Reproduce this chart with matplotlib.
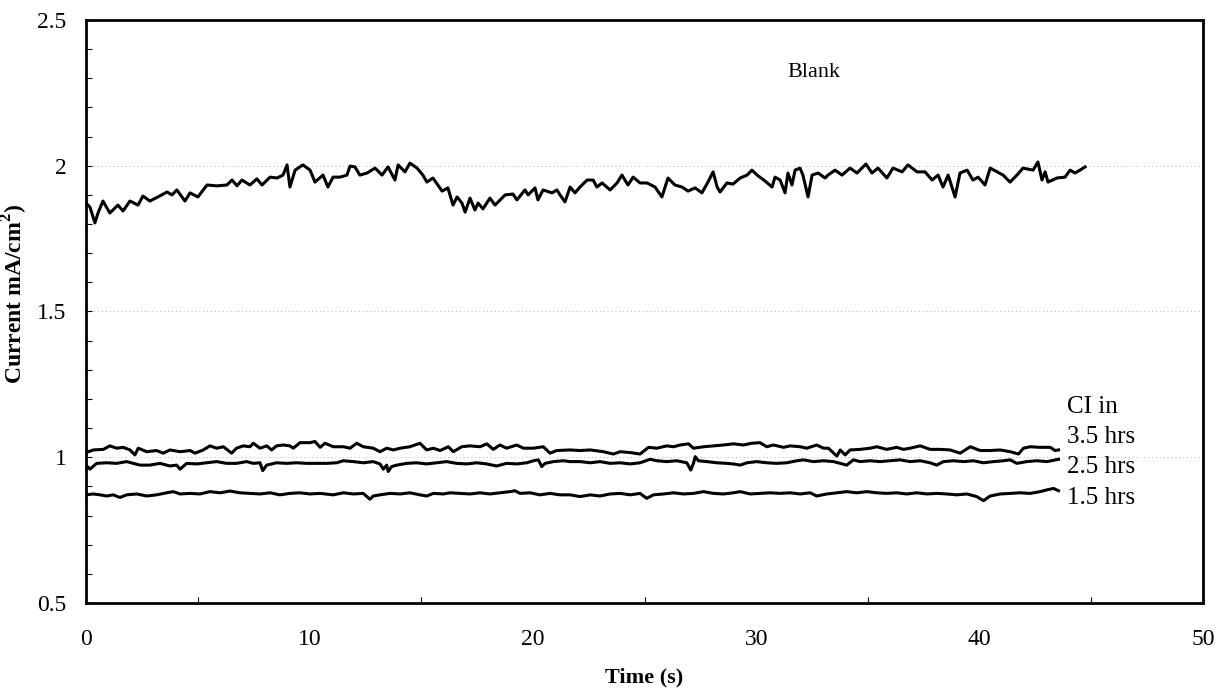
import matplotlib
matplotlib.use("Agg")
import matplotlib.pyplot as plt
from matplotlib.ticker import MultipleLocator

plt.rcParams['font.family'] = ['Liberation Serif', 'DejaVu Serif']
plt.rcParams['mathtext.fontset'] = 'custom'
plt.rcParams['mathtext.rm'] = 'Liberation Serif'
plt.rcParams['mathtext.bf'] = 'Liberation Serif:bold'

# Blank run
blank_t = [0.00, 0.18, 0.40, 0.54, 0.76, 1.07, 1.43, 1.66, 1.97, 2.33, 2.55, 2.86, 3.22, 3.63, 3.85,
           4.07, 4.43, 4.66, 5.01, 5.42, 5.86, 6.31, 6.54, 6.76, 6.98, 7.34, 7.65, 7.88, 8.24, 8.55,
           8.82, 9.00, 9.13, 9.36, 9.71, 10.03, 10.25, 10.61, 10.83, 11.06, 11.37, 11.68, 11.82, 12.04,
           12.26, 12.58, 12.94, 13.25, 13.52, 13.83, 13.97, 14.28, 14.50,
           14.82, 15.08, 15.26, 15.53, 15.94, 16.20, 16.43, 16.61, 16.83, 16.97, 17.19, 17.41, 17.55,
           17.77, 18.08, 18.31, 18.76, 19.11, 19.29, 19.65, 19.79, 20.10, 20.23, 20.46, 20.86, 21.08,
           21.22, 21.44, 21.67, 21.89, 22.11, 22.43, 22.70, 22.87, 23.10, 23.46, 23.77, 23.99, 24.26,
           24.49, 24.80, 25.11, 25.47, 25.78, 26.05, 26.36, 26.68, 26.95, 27.26, 27.57, 27.84, 28.07,
           28.25, 28.38, 28.69, 28.96, 29.28, 29.59,
           29.81, 30.04, 30.39, 30.71, 30.84, 31.07, 31.29, 31.42, 31.60, 31.74, 31.96, 32.09, 32.32,
           32.50, 32.77, 33.08, 33.21, 33.53, 33.84, 34.20, 34.51, 34.91, 35.18, 35.45, 35.85, 36.12,
           36.53, 36.79, 37.20, 37.56, 37.87, 38.14, 38.36, 38.59, 38.90, 39.12, 39.44, 39.70, 39.93,
           40.24, 40.47, 40.78, 41.05, 41.36, 41.67, 41.94, 42.39, 42.61, 42.79, 42.93, 43.06, 43.46,
           43.82, 44.05, 44.27, 44.49, 44.72]
blank_v = [1.872, 1.858, 1.804, 1.838, 1.879, 1.838, 1.865, 1.845, 1.879, 1.865, 1.896, 1.879, 1.893, 1.910, 1.900,
           1.917, 1.879, 1.907, 1.893, 1.934, 1.931, 1.934, 1.951, 1.931, 1.951, 1.934, 1.955, 1.934, 1.961, 1.958,
           1.968, 2.003, 1.927, 1.985, 2.003, 1.985, 1.944, 1.968, 1.927, 1.961, 1.961, 1.968, 1.999, 1.996,
           1.968, 1.975, 1.992, 1.968, 1.996, 1.951, 2.003, 1.979, 2.009,
           1.992, 1.968, 1.944, 1.958, 1.913, 1.924, 1.865, 1.893, 1.872, 1.841, 1.889, 1.848, 1.872,
           1.852, 1.889, 1.865, 1.900, 1.903, 1.883, 1.917, 1.900, 1.924, 1.883, 1.917, 1.907, 1.917,
           1.900, 1.876, 1.927, 1.907, 1.927, 1.951, 1.951, 1.927, 1.941, 1.917, 1.941, 1.968, 1.934,
           1.961, 1.941, 1.941, 1.927, 1.893, 1.958, 1.934, 1.927, 1.913, 1.924, 1.907, 1.944, 1.979,
           1.927, 1.910, 1.941, 1.937, 1.958, 1.968,
           1.985, 1.968, 1.948, 1.927, 1.961, 1.951, 1.907, 1.975, 1.934, 1.985, 1.992, 1.968, 1.893,
           1.968, 1.975, 1.958, 1.968, 1.985, 1.968, 1.992, 1.975, 2.006, 1.975, 1.992, 1.958, 1.992,
           1.979, 2.003, 1.979, 1.979, 1.951, 1.968, 1.927, 1.968, 1.893, 1.975, 1.985, 1.951, 1.961,
           1.934, 1.992, 1.979, 1.968, 1.944, 1.968, 1.992, 1.985, 2.013, 1.951, 1.979, 1.944, 1.958,
           1.961, 1.985, 1.975, 1.985, 1.996]

# CI in 3.5 hrs
ci35_t = [0.0, 0.33, 0.78, 1.07, 1.37, 1.67, 1.97, 2.19, 2.34, 2.72, 3.16, 3.46, 3.76, 4.21, 4.66, 4.88,
          5.25, 5.55, 5.85, 6.15, 6.52, 6.74, 7.04, 7.34, 7.49, 7.79, 8.09, 8.31, 8.53, 8.83, 9.13, 9.28,
          9.58, 10.03, 10.25, 10.48, 10.70, 11.07, 11.52, 11.82, 12.12, 12.41, 12.86, 13.16, 13.46, 13.76,
          14.06, 14.50, 14.95, 15.25, 15.55, 15.85, 16.22, 16.44, 16.82, 17.19, 17.64, 17.94, 18.23, 18.53,
          18.83, 19.28, 19.58, 20.03, 20.47, 20.77, 21.07,
          21.67, 22.12, 22.57, 23.16, 23.61, 23.91, 24.36, 24.80, 25.18, 25.55, 26.00, 26.30, 26.59, 26.97,
          27.19, 27.64, 28.09, 28.53, 28.98, 29.43, 29.80, 30.17, 30.47, 30.77, 31.22, 31.52, 31.97, 32.26,
          32.71, 33.01, 33.23, 33.61, 33.76, 33.98, 34.20, 34.65, 35.10, 35.40, 35.84, 36.29, 36.59, 36.89,
          37.34, 37.78, 38.23, 38.68, 39.13, 39.58, 40.02, 40.47, 40.92, 41.37, 41.74, 41.96, 42.26, 42.71,
          43.16, 43.38, 43.53]
ci35_v = [1.016, 1.025, 1.027, 1.039, 1.031, 1.034, 1.025, 1.008, 1.031, 1.019, 1.023, 1.014, 1.025, 1.019, 1.023, 1.014,
          1.025, 1.039, 1.031, 1.036, 1.014, 1.031, 1.039, 1.036, 1.048, 1.031, 1.039, 1.025, 1.039, 1.042, 1.039, 1.031,
          1.050, 1.050, 1.054, 1.034, 1.048, 1.036, 1.036, 1.031, 1.048, 1.036, 1.031, 1.019, 1.031, 1.025,
          1.031, 1.036, 1.048, 1.025, 1.031, 1.023, 1.036, 1.019, 1.036, 1.039, 1.036, 1.046, 1.027, 1.042,
          1.031, 1.042, 1.031, 1.031, 1.036, 1.014, 1.023,
          1.025, 1.023, 1.025, 1.019, 1.011, 1.019, 1.016, 1.011, 1.034, 1.031, 1.039, 1.036, 1.042, 1.046,
          1.031, 1.036, 1.039, 1.042, 1.046, 1.042, 1.048, 1.050, 1.036, 1.042, 1.034, 1.039, 1.036, 1.031,
          1.042, 1.031, 1.031, 1.004, 1.025, 1.008, 1.025, 1.027, 1.031, 1.036, 1.027, 1.034, 1.027, 1.031,
          1.039, 1.027, 1.027, 1.025, 1.014, 1.036, 1.023, 1.023, 1.025, 1.019, 1.011, 1.031, 1.036, 1.034,
          1.034, 1.023, 1.025]

# CI in 2.5 hrs
ci25_t = [0.0, 0.18, 0.48, 0.93, 1.37, 1.82, 2.12, 2.42, 2.86, 3.31, 3.76, 4.06, 4.21, 4.51, 4.95, 5.40,
          5.85, 6.30, 6.74, 7.19, 7.49, 7.79, 7.91, 8.09, 8.53, 8.98, 9.43, 9.88, 10.33, 10.77, 11.22, 11.52,
          11.97, 12.41, 12.86, 13.16, 13.31, 13.46, 13.53, 13.68, 13.91, 14.35, 14.80, 15.25, 15.70, 16.14,
          16.59, 17.04, 17.49, 17.94, 18.38, 18.83, 19.28, 19.73, 20.03, 20.25, 20.40, 20.55, 20.92, 21.37,
          21.67, 22.12, 22.57, 23.01, 23.46, 23.91, 24.36, 24.80, 25.25, 25.55, 26.00, 26.44, 26.89, 27.07,
          27.19, 27.27, 27.41, 27.79, 28.24, 28.68, 28.98, 29.28, 29.58, 30.03, 30.47, 30.92, 31.37, 31.82,
          32.11, 32.56, 33.01, 33.46, 33.76, 34.05, 34.35, 34.65, 35.10, 35.55, 35.99, 36.44, 36.89, 37.34,
          37.78, 38.08, 38.38, 38.83, 39.28, 39.72, 40.17, 40.62, 41.07, 41.37, 41.66, 42.11, 42.56, 43.01,
          43.53]
ci25_v = [0.973, 0.959, 0.979, 0.981, 0.979, 0.985, 0.979, 0.973, 0.973, 0.979, 0.970, 0.973, 0.959, 0.979, 0.977, 0.981,
          0.985, 0.979, 0.979, 0.985, 0.979, 0.981, 0.954, 0.973, 0.981, 0.979, 0.981, 0.979, 0.979, 0.979, 0.981, 0.988,
          0.985, 0.981, 0.985, 0.977, 0.959, 0.973, 0.951, 0.968, 0.973, 0.979, 0.981, 0.977, 0.981, 0.985,
          0.979, 0.977, 0.981, 0.977, 0.970, 0.979, 0.977, 0.981, 0.988, 0.991, 0.968, 0.979, 0.985, 0.988,
          0.985, 0.985, 0.981, 0.985, 0.979, 0.981, 0.977, 0.981, 0.993, 0.988, 0.985, 0.988, 0.981, 0.956,
          0.979, 1.002, 0.988, 0.985, 0.981, 0.979, 0.977, 0.973, 0.981, 0.985, 0.981, 0.979, 0.981, 0.988,
          0.991, 0.985, 0.988, 0.985, 0.979, 0.973, 0.991, 0.985, 0.988, 0.985, 0.988, 0.991, 0.985, 0.988,
          0.981, 0.973, 0.985, 0.988, 0.985, 0.988, 0.981, 0.985, 0.988, 0.991, 0.979, 0.985, 0.988, 0.985,
          0.993]

# CI in 1.5 hrs
ci15_t = [0.0, 0.33, 0.63, 0.93, 1.22, 1.52, 1.82, 2.27, 2.72, 3.16, 3.61, 3.91, 4.21, 4.66, 5.10, 5.55,
          6.00, 6.45, 6.89, 7.34, 7.79, 8.24, 8.68, 9.13, 9.58, 10.03, 10.48, 11.07, 11.52, 11.97, 12.41,
          12.71, 12.86, 13.16, 13.61, 14.06, 14.50, 14.95, 15.25, 15.55, 16.00, 16.29, 16.74, 17.19, 17.64,
          18.08, 18.53, 18.98, 19.20, 19.43, 19.88, 20.32, 20.77, 21.22,
          21.67, 22.12, 22.57, 23.01, 23.46, 23.91, 24.36, 24.80, 25.10, 25.40, 25.85, 26.30, 26.74, 27.19,
          27.64, 28.09, 28.53, 28.98, 29.28, 29.73, 30.17, 30.62, 31.07, 31.52, 31.97, 32.41, 32.71, 33.16,
          33.61, 34.05, 34.50, 34.95, 35.40, 35.84, 36.29, 36.74, 37.19, 37.64, 38.08, 38.53, 38.98, 39.43,
          39.87, 40.17, 40.47, 40.92, 41.37, 41.81, 42.26, 42.71, 43.01, 43.31, 43.53]
ci15_v = [0.871, 0.874, 0.871, 0.867, 0.871, 0.862, 0.871, 0.874, 0.867, 0.871, 0.878, 0.882, 0.874, 0.876, 0.874, 0.882,
          0.878, 0.884, 0.878, 0.876, 0.874, 0.878, 0.871, 0.876, 0.878, 0.874, 0.876, 0.871, 0.878, 0.874, 0.876,
          0.856, 0.867, 0.871, 0.876, 0.874, 0.878, 0.871, 0.867, 0.876, 0.874, 0.878, 0.876, 0.874, 0.878,
          0.874, 0.878, 0.882, 0.885, 0.876, 0.878, 0.871, 0.876, 0.871,
          0.871, 0.865, 0.871, 0.867, 0.874, 0.876, 0.871, 0.876, 0.859, 0.871, 0.874, 0.878, 0.874, 0.876,
          0.882, 0.876, 0.874, 0.878, 0.882, 0.874, 0.876, 0.878, 0.876, 0.878, 0.874, 0.878, 0.867, 0.874,
          0.878, 0.882, 0.878, 0.882, 0.878, 0.876, 0.878, 0.874, 0.878, 0.874, 0.876, 0.874, 0.871, 0.874,
          0.865, 0.851, 0.867, 0.874, 0.876, 0.878, 0.876, 0.882, 0.888, 0.893, 0.885]

ci_labels = ["CI in", "3.5 hrs", "2.5 hrs", "1.5 hrs"]

fig = plt.figure(figsize=(12.28, 6.95), dpi=100)
ax = fig.add_axes([0.070, 0.1324, 0.9097, 0.8388])

# faint dotted gridlines
for g in [1.0, 1.5, 2.0, 2.5]:
    ax.axhline(g, color='#b0b0b0', lw=0.7, ls=(0, (1, 3)), zorder=0)

for t, v in [(blank_t, blank_v), (ci35_t, ci35_v), (ci25_t, ci25_v), (ci15_t, ci15_v)]:
    ax.plot(t, v, color='black', lw=2.2, solid_joinstyle='round')

ax.set_xlim(0, 50)
ax.set_ylim(0.5, 2.5)
ax.xaxis.set_major_locator(MultipleLocator(10))
ax.xaxis.set_minor_locator(MultipleLocator(5))
ax.yaxis.set_major_locator(MultipleLocator(0.5))
ax.yaxis.set_minor_locator(MultipleLocator(0.1))
ax.yaxis.set_major_formatter(plt.FuncFormatter(lambda y, p: ('%g' % y)))
ax.tick_params(axis='both', which='both', direction='in', labelsize=17)
ax.tick_params(axis='y', which='major', length=4, width=0.8, pad=14)
ax.tick_params(axis='y', which='minor', length=4, width=0.8)
ax.tick_params(axis='x', which='major', length=0, pad=19)
ax.tick_params(axis='x', which='minor', length=4, width=0.8)
for s in ax.spines.values():
    s.set_linewidth(2)

ax.set_xlabel("Time (s)", fontsize=16, fontweight='bold', labelpad=12)
ax.set_ylabel(r"Current mA/cm$^\mathbf{2}$)", fontsize=17, fontweight='bold')
ax.yaxis.set_label_coords(-0.050, 0.53)

ax.text(31.4, 2.32, "Blank", fontsize=16, va='center', ha='left')
for lab, yv in zip(ci_labels, [1.172, 1.069, 0.967, 0.860]):
    ax.text(43.9, yv, lab, fontsize=18, va='center', ha='left')

fig.savefig("out.png", dpi=100)
